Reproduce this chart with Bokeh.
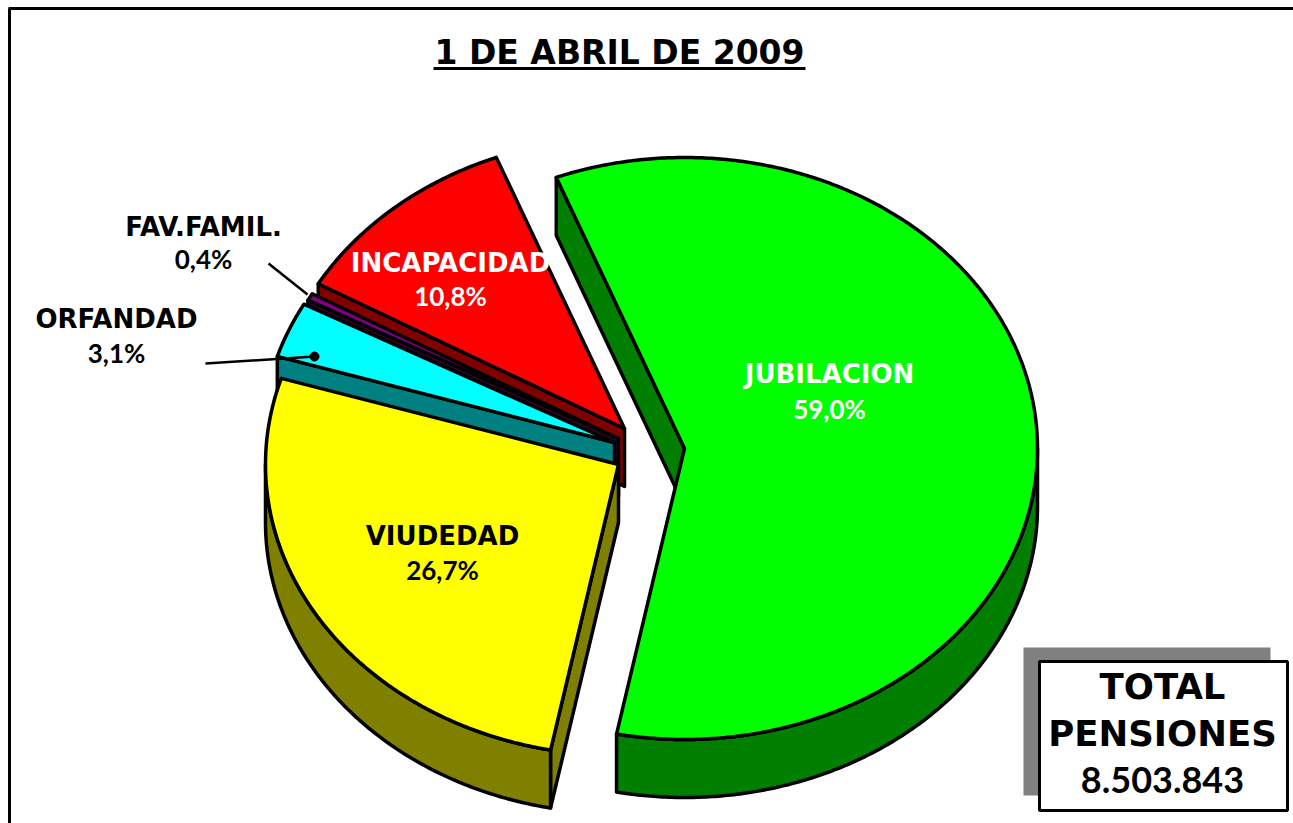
import numpy as np
from bokeh.plotting import figure
from bokeh.core.properties import value
from bokeh.embed import file_html
from bokeh.resources import INLINE

# ---- data ----
categories = ["JUBILACION", "VIUDEDAD", "ORFANDAD", "FAV.FAMIL.", "INCAPACIDAD"]
percent = [59.0, 26.7, 3.1, 0.4, 10.8]
percent_labels = ["59,0%", "26,7%", "3,1%", "0,4%", "10,8%"]
title_text = "1 DE ABRIL DE 2009"
total_lines = ["TOTAL", "PENSIONES"]
total_value = "8.503.843"

# ---- layout / style ----
W, H = 1293, 823
RX, RY, DEPTH = 353, 291, 58
START = -21.3
centers = [(684, 448), (618, 464), (614, 442), (618, 438), (624, 428)]
top_cols = ["#00FF00", "#FFFF00", "#00FFFF", "#800080", "#FF0000"]
side_cols = ["#007F00", "#808000", "#008080", "#300030", "#800000"]
WORD_FONT = "DejaVu Sans"
NUM_FONT = "Lato"

p = figure(width=W, height=H, x_range=(0, W), y_range=(H, 0),
           toolbar_location=None, output_backend="svg", min_border=0,
           background_fill_color="white", border_fill_color="white", outline_line_color=None)
p.xaxis.visible = False
p.yaxis.visible = False
p.grid.visible = False

def pt(c, a, d=0):
    r = np.radians(a)
    return c[0] + RX * np.sin(r), c[1] - RY * np.cos(r) + d

def arc(c, a0, a1, d=0):
    n = max(int(abs(a1 - a0) * 2), 2)
    return pt(c, np.linspace(a0, a1, n), d)

edges = np.concatenate([[0], np.cumsum(percent)]) / sum(percent) * 360 + START
spans = list(zip(edges[:-1], edges[1:]))

def patch(xs, ys, col):
    p.patch(list(xs), list(ys), fill_color=col, line_color="black", line_width=3.5, line_join="round")

def radial_wall(c, a, col):
    x, y = pt(c, a)
    patch([c[0], c[0], x, x], [c[1], c[1] + DEPTH, y + DEPTH, y], col)

def outer_wall(c, a0, a1, col):
    x, y = arc(c, a0, a1)
    patch(np.r_[x, x[::-1]], np.r_[y, y[::-1] + DEPTH], col)

def top(c, a0, a1, col):
    x, y = arc(c, a0, a1)
    patch(np.r_[c[0], x], np.r_[c[1], y], col)

# back to front
for i in [4, 3, 2]:
    radial_wall(centers[i], spans[i][0], side_cols[i])
    top(centers[i], spans[i][0], spans[i][1], top_cols[i])

# viudedad
radial_wall(centers[1], spans[1][0], side_cols[1])
outer_wall(centers[1], spans[1][0], 270, side_cols[1])
top(centers[1], spans[1][0], spans[1][1], top_cols[1])

# jubilacion
radial_wall(centers[0], spans[0][0], side_cols[0])
outer_wall(centers[0], 90, spans[0][1], side_cols[0])
top(centers[0], spans[0][0], spans[0][1], top_cols[0])

# frame
p.line([9, 9], [8, H], line_color="black", line_width=3)
p.line([8, W], [8, 8], line_color="black", line_width=3)

# leaders
p.line([268, 307], [263, 294], line_color="black", line_width=2.5)
p.line([205, 314], [363, 356], line_color="black", line_width=2.5)
p.scatter([314], [356], size=9, color="black")

def label(x, y, s, size, col="black", font=WORD_FONT):
    p.text([x], [y], text=[s], text_font=value(font), text_font_style="bold",
           text_font_size=size, text_color=col, text_align="center", text_baseline="middle")

# slice labels
positions = [(829, 373, 408), (442, 535, 569), (116, 318, 352), (203, 226, 258), (450, 262, 295)]
colors = ["white", "black", "black", "black", "white"]
for name, pct, (x, y0, y1), col in zip(categories, percent_labels, positions, colors):
    label(x, y0, name, "26px", col)
    label(x, y1, pct, "26px", col, NUM_FONT)

# title
label(619, 52, title_text, "33px")
p.line([433, 805], [68, 68], line_color="black", line_width=3)

# total box
p.quad(left=[1023], right=[1270], top=[647], bottom=[795], fill_color="#808080", line_color=None)
p.quad(left=[1039], right=[1287], top=[661], bottom=[810], fill_color="white", line_color="black", line_width=3)
for s, y in zip(total_lines, [686, 733]):
    label(1162, y, s, "35.5px")
label(1162, 779, total_value, "36px", "black", NUM_FONT)

open("out.html", "w").write(file_html(p, INLINE))
